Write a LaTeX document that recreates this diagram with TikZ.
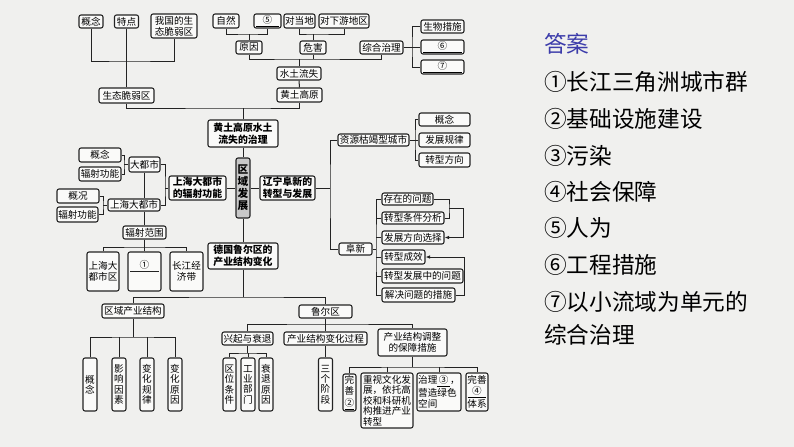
\documentclass[tikz,border=0pt]{standalone}
\usepackage{fontspec}
\setmainfont{Noto Sans CJK SC}
\usetikzlibrary{arrows.meta}
\definecolor{bg}{RGB}{240,240,238}
\definecolor{ln}{RGB}{35,35,35}
\definecolor{ansc}{RGB}{60,60,170}
\definecolor{gfill}{RGB}{200,200,200}
\newcommand{\bx}[6][]{%
  \pgfmathsetmacro\bw{(#4-#2)*0.75}%
  \pgfmathsetmacro\bh{(#5-#3)*0.75}%
  \pgfmathsetmacro\bxc{(#2+#4)/2}%
  \pgfmathsetmacro\byc{(#3+#5)/2}%
  \node[box,minimum width=\bw pt,minimum height=\bh pt,#1] (#6) at (\bxc,\byc)}
\begin{document}
\begin{tikzpicture}[x=0.75pt,y=-0.75pt,
  box/.style={draw=ln,line width=0.8pt,rounded corners=1.5pt,fill=white!65!bg,inner sep=0pt,
    font=\fontsize{7.2}{8.3}\selectfont,align=center},
  vbox/.style={font=\fontsize{7.2}{7.8}\selectfont},
  mainbox/.style={font=\fontsize{7.4}{9}\selectfont\bfseries},
  txt/.style={inner sep=0pt,font=\fontsize{7.2}{8.3}\selectfont},
  con/.style={draw=ln,line width=0.75pt},
  arr/.style={con,-{Latex[length=3.5pt,width=2.8pt]}},
  anst/.style={inner sep=0pt,anchor=west,font=\fontsize{17}{20}\selectfont}]
\fill[bg] (0,0) rectangle (794,447);
\useasboundingbox (0,0) rectangle (794,447);

% ---- top-left
\bx{79}{15}{103}{28}{gn1} {概念};
\bx{114.5}{15}{138.5}{28}{td} {特点};
\bx{151}{14}{197}{38}{wg} {我国的生\\态脆弱区};
\bx{99}{88}{154}{103}{stc} {生态脆弱区};
% ---- top-middle
\bx{213}{14}{239}{28}{zr} {自然};
\bx{254}{14}{281}{28}{c5} {\underline{\makebox[17pt]{⑤}}};
\bx{284}{14}{315}{28}{ddd} {对当地};
\bx{319}{14}{369}{28}{dxy} {对下游地区};
\bx{236}{41}{262}{54}{yy} {原因};
\bx{300}{41}{326}{54}{wh} {危害};
\bx{360}{41}{403}{54}{zhzl} {综合治理};
\bx{421}{20}{464}{33}{sw} {生物措施};
\bx{421}{40}{464}{54}{c6} {\underline{\makebox[29pt]{⑥}}};
\bx{421}{60}{464}{74}{c7} {\underline{\makebox[29pt]{⑦}}};
\bx{277}{67}{321}{80}{stls} {水土流失};
\bx{277}{88}{322}{102}{htgy} {黄土高原};
% ---- spine
\bx[mainbox]{208}{120}{278}{147}{htzl} {黄土高原水土\\流失的治理};
\bx[fill=gfill,font=\fontsize{8}{9}\selectfont\bfseries]{236}{158}{250}{218}{qyfz} {区\\域\\发\\展};
\bx[mainbox]{208}{243}{278}{269}{dgl} {德国鲁尔区的\\产业结构变化};
% ---- left
\bx[mainbox]{169}{176}{226}{200}{shfs} {上海大都市\\的辐射功能};
\bx{129}{157}{160}{172}{dds} {大都市};
\bx{108}{199}{160}{211}{shd} {上海大都市};
\bx{79}{148}{121}{162}{gn2} {概念};
\bx{79}{167}{121}{181}{fs1} {辐射功能};
\bx{57}{189}{99}{203}{gk} {概况};
\bx{57}{207}{98}{222}{fs2} {辐射功能};
\bx{123}{226}{166}{239}{fsfw} {辐射范围};
\bx{87}{252}{119}{291}{shdq} {上海大\\都市区};
\bx{128}{252}{161}{291}{c1} {};
\node[txt] (c1t) at (144.5,264.5) {①};
\draw[con] (130,271) -- (159,271);
\bx{170}{252}{203}{291}{cjj} {长江经\\济带};
% ---- right
\bx[mainbox]{260}{176}{315}{200}{lnfx} {辽宁阜新的\\转型与发展};
\bx{338}{134}{409}{146}{zykj} {资源枯竭型城市};
\bx{339}{243}{372}{255}{fx} {阜新};
\bx{419}{113}{470}{126}{gn3} {概念};
\bx{419}{133}{470}{147}{fzgl} {发展规律};
\bx{419}{153}{470}{167}{zxfx} {转型方向};
\bx{382}{193}{433}{205}{czwt} {存在的问题};
\bx{382}{212}{444}{224}{zxtj} {转型条件分析};
\bx{382}{231}{444}{244}{fzfx} {发展方向选择};
\bx{382}{250}{425}{264}{zxcx} {转型成效};
\bx{382}{269}{463}{283}{zxwt} {转型发展中的问题};
\bx{382}{288}{455}{302}{jjcs} {解决问题的措施};
% ---- bottom
\bx{299}{305}{352}{318}{lrq} {鲁尔区};
\bx{102}{304}{164}{318}{qycy} {区域产业结构};
\bx[vbox]{83}{358}{97}{411}{gn4} {概\\念};
\bx[vbox]{112}{358}{126}{411}{yx} {影\\响\\因\\素};
\bx[vbox]{140}{358}{154}{411}{bhgl} {变\\化\\规\\律};
\bx[vbox]{168}{358}{182}{411}{bhyy} {变\\化\\原\\因};
\bx{222}{332}{273}{345}{xqsr} {兴起与衰退};
\bx{284}{332}{367}{345}{cyjg} {产业结构变化过程};
\bx{378}{329}{447}{356}{bzcs} {产业结构调整\\的保障措施};
\bx[vbox]{223}{358}{236}{411}{qwtj} {区\\位\\条\\件};
\bx[vbox]{241}{358}{255}{411}{gybm} {工\\业\\部\\门};
\bx[vbox]{259}{358}{273}{411}{sty} {衰\\退\\原\\因};
\bx[vbox]{318.5}{358}{332.5}{411}{sgjd} {三\\个\\阶\\段};
\bx[font=\fontsize{7.2}{8.5}\selectfont]{343}{374}{356}{411}{ws2} {完\\善\\\underline{②}};
\bx[align=left,font=\fontsize{7.2}{7.9}\selectfont]{361}{373}{413}{428}{zswh} {重视文化发\\展，依托高\\校和科研机\\构推进产业\\转型};
\bx[align=left,font=\fontsize{7.2}{8.5}\selectfont]{417}{373}{461}{411}{zl3} {治理\underline{\,③\,}，\\营造绿色\\空间};
\bx[font=\fontsize{7.2}{8.5}\selectfont]{466}{373}{488}{411}{ws4} {完善\\\underline{\makebox[14pt]{④}}\\体系};

% ---- connectors top
\coordinate (j1) at (126.5,61);
\draw[con] (gn1.south) |- (j1) -| (wg.south);
\draw[con] (td.south) -- (stc.north);
\coordinate (j2) at (249,34);
\draw[con] (zr.south) |- (j2) -| (c5.south);
\draw[con] (yy.north) -- (j2);
\coordinate (j3) at (313,34);
\draw[con] (ddd.south) |- (j3) -| (dxy.south);
\draw[con] (wh.north) -- (j3);
\coordinate (j4) at (299,59);
\draw[con] (yy.south) |- (j4) -| (zhzl.south);
\draw[con] (wh.south) -- (wh.south |- j4);
\draw[con] (stls.north) -- (j4);
\coordinate (j5) at (412,47);
\draw[con] (zhzl.east) -- (zhzl.east -| j5);
\draw[con] (sw.west) -| (j5) |- (c7.west);
\draw[con] (c6.west) -- (c6.west -| j5);
\draw[con] (stls.south) -- (htgy.north);
\coordinate (j6) at (243,108);
\draw[con] (stc.south) |- (j6) -| (htgy.south);
\draw[con] (j6) -- (htzl.north);
\draw[con] (htzl.south) -- (qyfz.north);
\draw[con] (qyfz.south) -- (dgl.north);
\coordinate (j7) at (243,297);
\draw[con] (dgl.south) -- (j7);
\draw[con] (qycy.north) |- (j7) -| (lrq.north);
% ---- connectors left
\draw[con] (qyfz.west) -- (qyfz.west -| shfs.east);
\coordinate (j8) at (165,188);
\draw[con] (shfs.west) -- (j8);
\draw[con] (dds.east) -| (j8) |- (shd.east);
\draw[con] (dds.south) -- (dds.south |- shd.north);
\draw[con] (shd.south -| fsfw.north) -- (fsfw.north);
\coordinate (j9) at (124,164.5);
\draw[con] (gn2.east) -| (j9) |- (fs1.east);
\draw[con] (j9) -- (dds.west);
\coordinate (j10) at (103,205);
\draw[con] (gk.east) -| (j10) |- (fs2.east);
\draw[con] (j10) -- (shd.west);
\coordinate (j11) at (144.5,247);
\draw[con] (fsfw.south) -- (j11);
\draw[con] (shdq.north) |- (j11) -| (cjj.north);
\draw[con] (c1.north) -- (c1.north |- j11);
% ---- connectors right
\draw[con] (qyfz.east) -- (qyfz.east -| lnfx.west);
\coordinate (j12) at (330,188);
\draw[con] (lnfx.east) -- (j12);
\draw[con] (zykj.west) -| (j12) |- (fx.west);
\coordinate (j13) at (415,140);
\draw[con] (zykj.east) -- (j13);
\draw[con] (gn3.west) -| (j13) |- (zxfx.west);
\draw[con] (fzgl.west) -- (fzgl.west -| j13);
\coordinate (j14) at (376,249);
\draw[con] (fx.east) -- (j14);
\draw[con] (czwt.west) -| (j14) |- (jjcs.west);
\draw[con] (zxtj.west) -- (zxtj.west -| j14);
\draw[con] (fzfx.west) -- (fzfx.west -| j14);
\draw[con] (zxcx.west) -- (zxcx.west -| j14);
\draw[con] (zxwt.west) -- (zxwt.west -| j14);
\coordinate (j15) at (449,208.5);
\draw[con] (czwt.east) -| (j15) |- (zxtj.east);
\coordinate (j16) at (463,208.5);
\draw[arr] (j15) -- (j16) |- (fzfx.east);
\coordinate (j17) at (464,295);
\draw[arr] (jjcs.east) -- (j17) |- (zxcx.east);
% ---- connectors bottom
\coordinate (j18) at (133,337);
\draw[con] (qycy.south) -- (j18);
\draw[con] (gn4.north) |- (j18) -| (bhyy.north);
\draw[con] (yx.north) -- (yx.north |- j18);
\draw[con] (bhgl.north) -- (bhgl.north |- j18);
\coordinate (j19) at (325.5,324);
\draw[con] (lrq.south) -- (j19);
\draw[con] (xqsr.north) |- (j19) -| (bzcs.north);
\draw[con] (cyjg.north) -- (cyjg.north |- j19);
\coordinate (j20) at (247.5,353);
\draw[con] (xqsr.south) -- (j20);
\draw[con] (qwtj.north) |- (j20) -| (sty.north);
\draw[con] (gybm.north) -- (gybm.north |- j20);
\draw[con] (cyjg.south) -- (sgjd.north);
\coordinate (j21) at (412.5,367);
\draw[con] (bzcs.south) -- (j21);
\draw[con] (ws2.north) |- (j21) -| (ws4.north);
\draw[con] (zswh.north) -- (zswh.north |- j21);
\draw[con] (zl3.north) -- (zl3.north |- j21);

% ---- answers
\node[anst,text=ansc] (a0) at (544,44) {答案};
\node[anst] (a1) at (544,82) {①长江三角洲城市群};
\node[anst] (a2) at (544,119) {②基础设施建设};
\node[anst] (a3) at (544,156) {③污染};
\node[anst] (a4) at (544,192) {④社会保障};
\node[anst] (a5) at (544,228) {⑤人为};
\node[anst] (a6) at (544,265) {⑥工程措施};
\node[anst] (a7) at (544,302) {⑦以小流域为单元的};
\node[anst] (a8) at (544,335) {综合治理};
\end{tikzpicture}
\end{document}
